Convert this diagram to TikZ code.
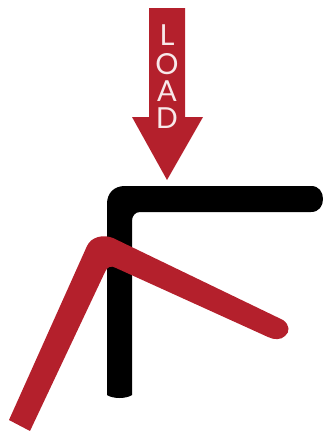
\documentclass[tikz,border=0pt]{standalone}
\usepackage{fontspec}
\setmainfont{Lato}
\usetikzlibrary{positioning}
\definecolor{loadred}{RGB}{180,32,44}
\begin{document}
\begin{tikzpicture}[x=1pt,y=-1pt,
  bar/.style={fill=loadred,draw=none},
  letter/.style={text=white!90!loadred,font=\fontsize{29}{29}\selectfont,inner sep=0pt,anchor=center}]
\useasboundingbox (0,0) rectangle (323,431);
% black bracket
\fill[black] (107,395) -- (107,204) .. controls (107,193) and (114,186) .. (125,186)
  -- (311,186) .. controls (319,186) and (323,192) .. (323,199) .. controls (323,206) and (319,212) .. (311,212)
  -- (140,212) .. controls (135,212) and (132,216) .. (132,221)
  -- (132,395) .. controls (126,399) and (113,399) .. (107,395) -- cycle;
% red bracket
\fill[bar] (9,420) -- (87,246) .. controls (91,237) and (103,234) .. (113,238)
  -- (283,320) .. controls (290,325) and (290,332) .. (285,336) .. controls (281,340) and (274,340) .. (268,337)
  -- (116,268) .. controls (111,265) and (107,267) .. (105,272)
  -- (30,431) -- cycle;
% load arrow
\fill[bar] (149,8) -- (185,8) -- (185,117) -- (203,117) -- (167,180) -- (132,117) -- (149,117) -- cycle;
\node[letter] (l) at (167,35) {L};
\node[letter] (o) at (167,64) {O};
\node[letter] (a) at (167,91.5) {A};
\node[letter] (d) at (167,118.5) {D};
\end{tikzpicture}
\end{document}
